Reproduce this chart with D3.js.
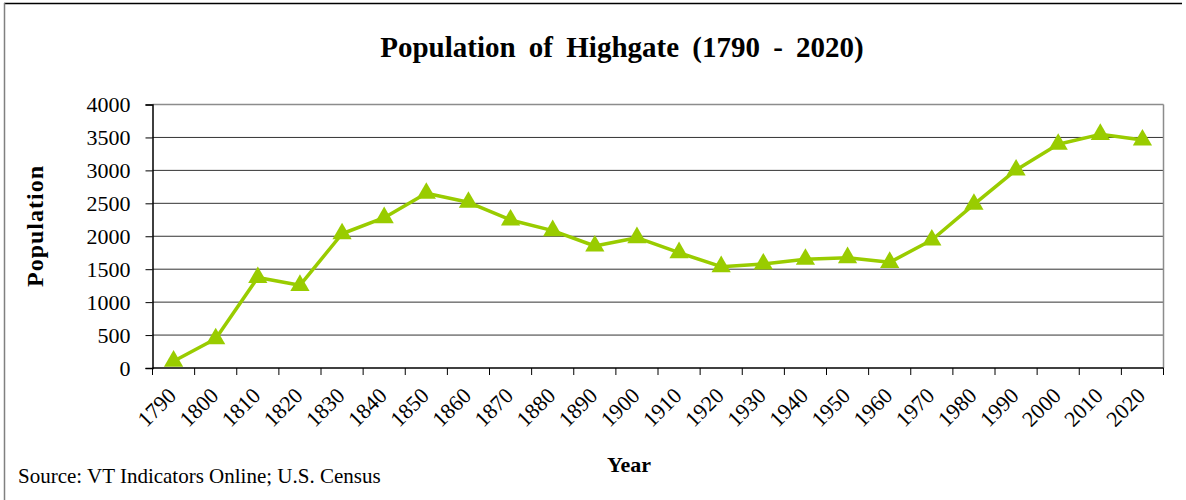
<!DOCTYPE html>
<html>
<head>
<meta charset="utf-8">
<script src="https://cdn.jsdelivr.net/npm/d3@7"></script>
<style>
  body { margin: 0; background: #fff; }
  svg { display: block; }
  text { font-family: "Liberation Serif", "Times New Roman", serif; fill: #000; }
</style>
</head>
<body>
<svg id="chart" width="1186" height="500"></svg>
<script>
var years = ["1790","1800","1810","1820","1830","1840","1850","1860","1870","1880","1890","1900",
             "1910","1920","1930","1940","1950","1960","1970","1980","1990","2000","2010","2020"];
var population = [103, 443, 1374, 1255, 2038, 2282, 2653, 2515, 2247, 2085, 1852, 1978,
                  1750, 1538, 1579, 1650, 1675, 1604, 1943, 2485, 3006, 3396, 3547, 3461];
var yTicks = [0, 500, 1000, 1500, 2000, 2500, 3000, 3500, 4000];

var svg = d3.select('#chart');
var margin = {left: 152.5, top: 104.5, right: 1163.5, bottom: 368};
var green = '#99cc00';

// outer chart border (top and left only visible)
svg.append('line').attr('x1', 4).attr('x2', 1182).attr('y1', 3.5).attr('y2', 3.5)
  .attr('stroke', '#000').attr('stroke-width', 1.5);
svg.append('line').attr('x1', 4.5).attr('x2', 4.5).attr('y1', 3).attr('y2', 500)
  .attr('stroke', '#808080').attr('stroke-width', 1.5);

var x = d3.scaleBand().domain(years).range([margin.left, margin.right]);
var y = d3.scaleLinear().domain([0, 4000]).range([margin.bottom, margin.top]);

// gridlines
svg.append('g').selectAll('line')
  .data(yTicks.slice(1))
  .enter().append('line')
  .attr('x1', margin.left).attr('x2', margin.right)
  .attr('y1', function(d) { return y(d); })
  .attr('y2', function(d) { return y(d); })
  .attr('stroke', function(d) { return d === 4000 ? '#8c8c8c' : '#333'; })
  .attr('stroke-width', function(d) { return d === 4000 ? 1.5 : 1; });

// right border
svg.append('line').attr('x1', margin.right).attr('x2', margin.right)
  .attr('y1', margin.top).attr('y2', margin.bottom)
  .attr('stroke', '#8c8c8c').attr('stroke-width', 1.5);

// y axis
var yAxis = svg.append('g')
  .attr('transform', 'translate(' + margin.left + ',0)')
  .call(d3.axisLeft(y).tickValues(yTicks).tickFormat(d3.format('d')).tickSize(7).tickPadding(15));
yAxis.select('.domain').attr('stroke', '#000').attr('stroke-width', 1.5);
yAxis.selectAll('.tick line').attr('stroke', '#000');
yAxis.selectAll('.tick text')
  .style('font-family', '"Liberation Serif", serif').style('font-size', '22px').attr('fill', '#000');

// x axis
var xTickPos = years.map(function(d) { return x(d); }).concat([margin.right]);
var xAxis = svg.append('g')
  .attr('transform', 'translate(0,' + margin.bottom + ')');
xAxis.append('line').attr('x1', margin.left).attr('x2', margin.right)
  .attr('stroke', '#000').attr('stroke-width', 1.5);
xAxis.selectAll('line.tk').data(xTickPos).enter().append('line')
  .attr('class', 'tk')
  .attr('x1', function(d) { return d; }).attr('x2', function(d) { return d; })
  .attr('y1', 0).attr('y2', 7).attr('stroke', '#000');
xAxis.selectAll('text').data(years).enter().append('text')
  .attr('transform', function(d) {
    return 'translate(' + (x(d) + x.bandwidth() / 2 + 4) + ',29) rotate(-45)';
  })
  .attr('text-anchor', 'end')
  .style('font-size', '22px')
  .text(function(d) { return d; });

// line
var line = d3.line()
  .x(function(d, i) { return x(years[i]) + x.bandwidth() / 2; })
  .y(function(d) { return y(d); });
svg.append('path').datum(population)
  .attr('d', line)
  .attr('fill', 'none')
  .attr('stroke', green)
  .attr('stroke-width', 3.5)
  .attr('stroke-linejoin', 'round');

// triangle markers
var tri = d3.symbol().type(d3.symbolTriangle).size(160);
svg.append('g').selectAll('path')
  .data(population)
  .enter().append('path')
  .attr('d', tri)
  .attr('transform', function(d, i) {
    return 'translate(' + (x(years[i]) + x.bandwidth() / 2) + ',' + y(d) + ')';
  })
  .attr('fill', green);

// title
svg.append('text')
  .attr('x', 622).attr('y', 57)
  .attr('text-anchor', 'middle')
  .style('font-size', '29px').style('font-weight', 'bold')
  .style('word-spacing', '6px')
  .text('Population of Highgate (1790 - 2020)');

// axis titles
svg.append('text')
  .attr('transform', 'translate(43,226) rotate(-90)')
  .attr('text-anchor', 'middle')
  .style('font-size', '24px').style('font-weight', 'bold')
  .style('letter-spacing', '1px')
  .text('Population');

svg.append('text')
  .attr('x', 629).attr('y', 472)
  .attr('text-anchor', 'middle')
  .style('font-size', '22px').style('font-weight', 'bold')
  .text('Year');

svg.append('text')
  .attr('x', 18).attr('y', 483)
  .style('font-size', '21px')
  .text('Source: VT Indicators Online; U.S. Census');
</script>
</body>
</html>
